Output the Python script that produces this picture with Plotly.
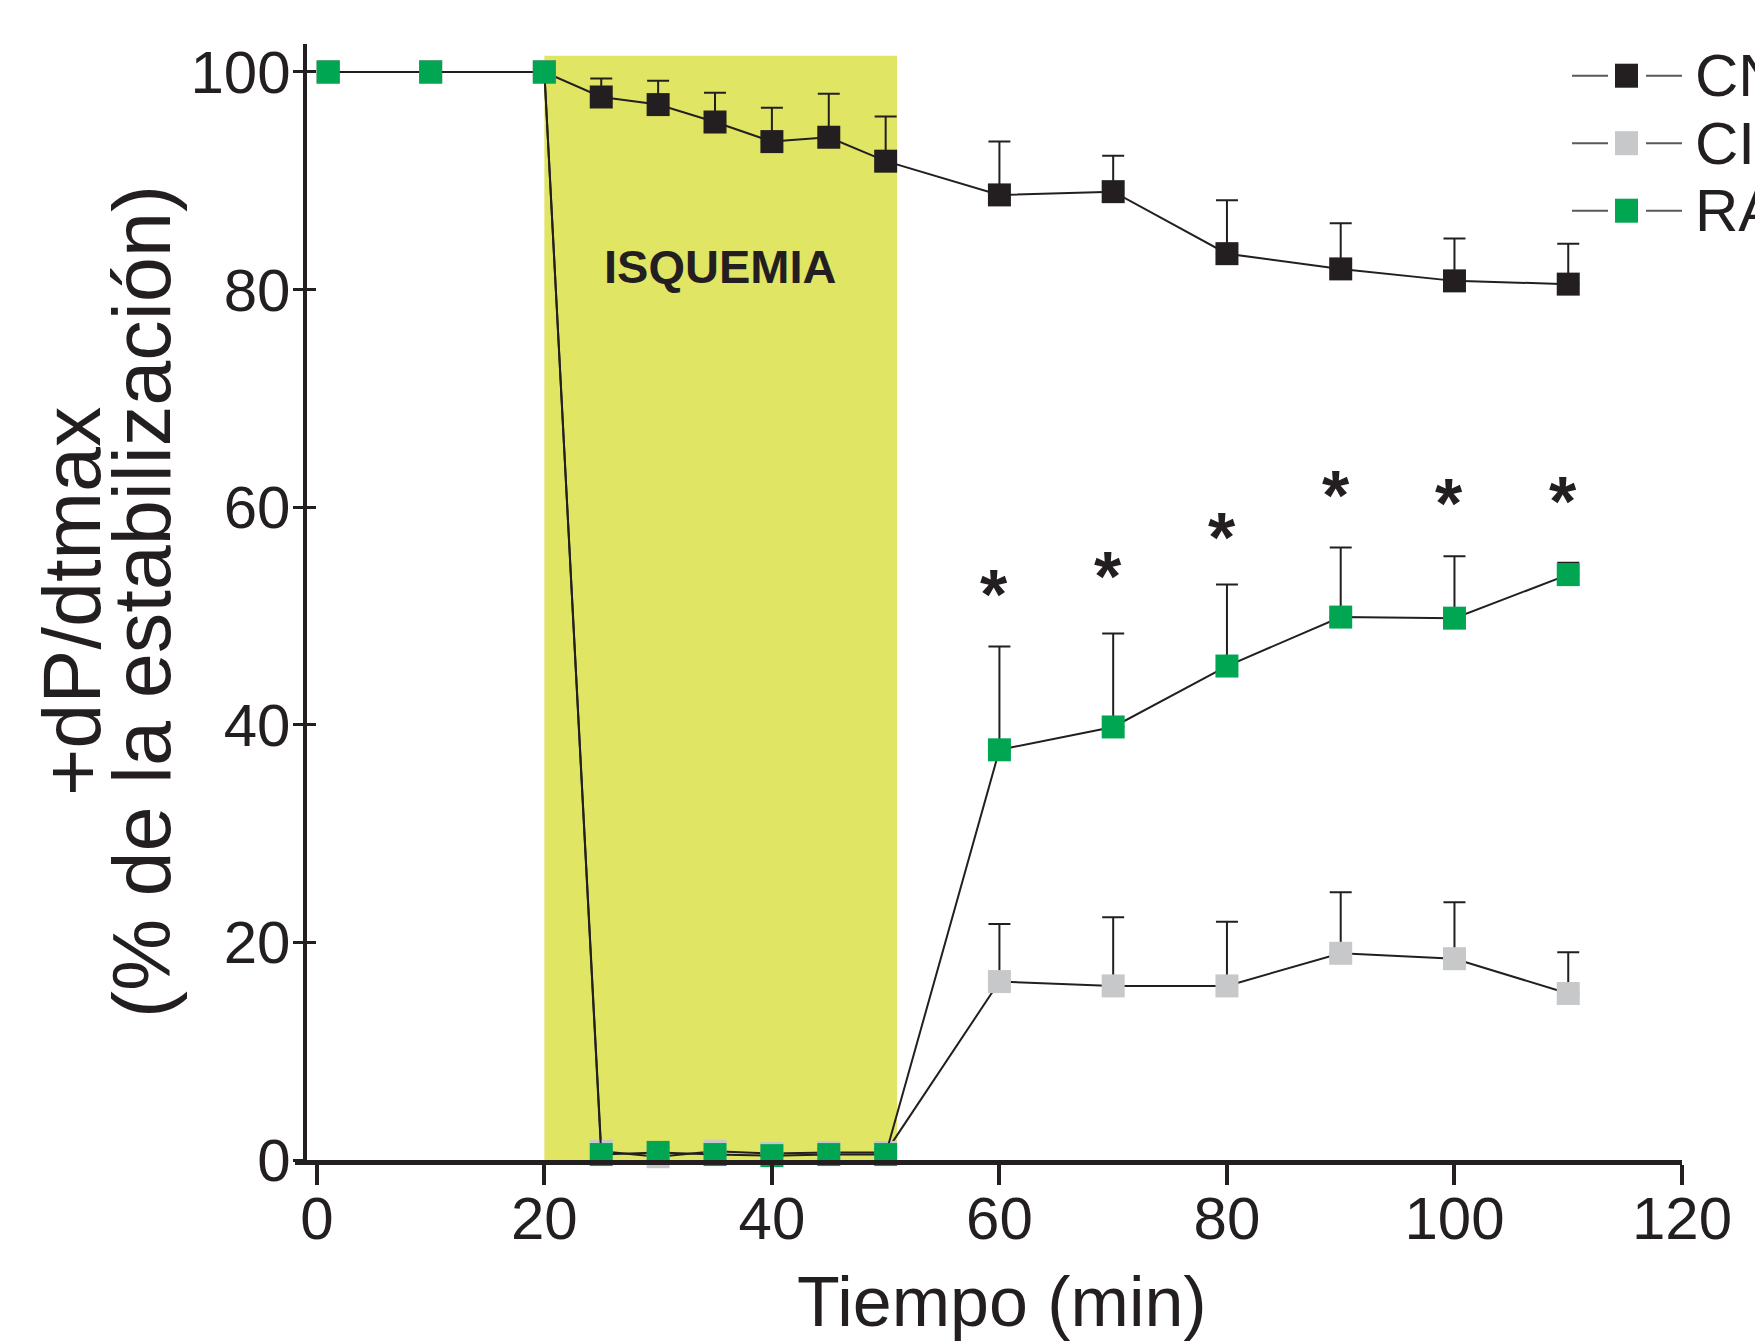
import plotly.graph_objects as go

# ---------------- data ----------------
time_min = [1, 10, 20, 25, 30, 35, 40, 45, 50, 60, 70, 80, 90, 100, 110]
cn_values = [100, 100, 100, 97.7, 97.0, 95.4, 93.6, 94.0, 91.8, 88.7, 89.0, 83.3, 81.9, 80.8, 80.5]
cn_sem = [0, 0, 0, 1.7, 2.2, 2.7, 3.1, 4.0, 4.1, 4.9, 3.3, 4.9, 4.2, 3.9, 3.7]
ci_values = [100, 100, 100, 0.8, 0.3, 0.8, 0.6, 0.7, 0.7, 16.4, 16.0, 16.0, 19.0, 18.5, 15.3]
ci_sem = [0, 0, 0, 0.3, 0.3, 0.3, 0.3, 0.3, 0.3, 5.3, 6.3, 5.9, 5.6, 5.2, 3.8]
ra_values = [100, 100, 100, 0.5, 0.7, 0.5, 0.4, 0.5, 0.5, 37.7, 39.8, 45.4, 49.9, 49.8, 53.8]
ra_sem = [0, 0, 0, 0.4, 0.4, 0.5, 0.4, 0.5, 0.5, 9.5, 8.6, 7.5, 6.4, 5.7, 1.1]
series_names = ["CN", "CI", "RA"]
star_times = [60, 70, 80, 90, 100, 110]
star_levels = [53.0, 54.7, 58.3, 62.1, 61.4, 61.6]
x_ticks = [0, 20, 40, 60, 80, 100, 120]
y_ticks = [0, 20, 40, 60, 80, 100]
ischemia_start, ischemia_end, ischemia_top = 20, 51, 101.5
ischemia_label = "ISQUEMIA"
x_title = "Tiempo (min)"
y_title_lines = ["+dP/dtmax", "(% de la estabilización)"]

# ---------------- style ----------------
W, H = 1755, 1341
L, R, T, B = 295, 73, 44, 181
PW, PH = W - L - R, H - T - B
INK = "#231f20"
colors = ["#231f20", "#c7c8ca", "#00a651"]
FONT = "Liberation Sans, Arial, Helvetica, sans-serif"
X_RANGE = [-1.92, 120]
Y_RANGE = [0, 102.57]
YAXIS_POS = 0.00685


def px_x(px):
    return (px - L) / PW


def px_y(py):
    return 1 - (py - T) / PH


fig = go.Figure()

series = [(cn_values, cn_sem), (ci_values, ci_sem), (ra_values, ra_sem)]
for name, (vals, sem), col in zip(series_names, series, colors):
    fig.add_trace(go.Scatter(
        x=time_min, y=vals, name=name, mode="lines+markers",
        line=dict(color=INK, width=2),
        marker=dict(symbol="square", size=23, color=col, line=dict(width=0)),
        error_y=dict(type="data", array=sem, arrayminus=[0] * len(sem),
                     symmetric=False, color=INK, thickness=2, width=11),
        showlegend=False, cliponaxis=False,
    ))

# ischemia band
fig.add_shape(type="rect", xref="x", yref="y", x0=ischemia_start, x1=ischemia_end,
              y0=0, y1=ischemia_top, fillcolor="#e1e564", line=dict(width=0), layer="below")

annotations = []
annotations.append(dict(x=(ischemia_start + 15.4), y=82.1, xref="x", yref="y", text=ischemia_label,
                        showarrow=False, font=dict(family=FONT, size=47, color=INK, weight="bold")))
for t, lv in zip(star_times, star_levels):
    annotations.append(dict(x=t, y=lv, xref="x", yref="y", text="*", showarrow=False,
                            xshift=-5, yshift=-12,
                            font=dict(family=FONT, size=70, color=INK, weight="bold")))

# axis titles
annotations.append(dict(x=px_x(1002), y=px_y(1302), xref="paper", yref="paper", text=x_title,
                        showarrow=False, xanchor="center", yanchor="middle",
                        font=dict(family=FONT, size=70, color=INK)))
for txt, cx in zip(y_title_lines, [72, 142]):
    annotations.append(dict(x=px_x(cx), y=0.5, xref="paper", yref="paper", text=txt,
                            showarrow=False, textangle=-90, xanchor="center", yanchor="middle",
                            font=dict(family=FONT, size=81, color=INK)))

# manual legend (cut by right edge like the reference)
shapes = []
for i, (name, col) in enumerate(zip(series_names, colors)):
    ry = 75.7 + 67.5 * i
    for xa, xb in [(1572, 1608), (1646, 1682)]:
        shapes.append(dict(type="line", xref="paper", yref="paper",
                           x0=px_x(xa), x1=px_x(xb), y0=px_y(ry), y1=px_y(ry),
                           line=dict(color="#58595b", width=2)))
    shapes.append(dict(type="rect", xref="paper", yref="paper",
                       x0=px_x(1615), x1=px_x(1638), y0=px_y(ry - 12), y1=px_y(ry + 12),
                       fillcolor=col, line=dict(width=0)))
    annotations.append(dict(x=px_x(1693), y=px_y(ry), xref="paper", yref="paper", text=name,
                            showarrow=False, xanchor="left", yanchor="middle",
                            font=dict(family=FONT, size=60, color=INK)))
for s in shapes:
    fig.add_shape(**s)

fig.update_layout(
    width=W, height=H,
    margin=dict(l=L, r=R, t=T, b=B, autoexpand=False),
    paper_bgcolor="white", plot_bgcolor="white",
    font=dict(family=FONT, color=INK),
    annotations=annotations,
    xaxis=dict(range=X_RANGE, tickvals=x_ticks, ticks="outside", ticklen=20, tickwidth=4,
               tickcolor=INK, showline=True, linewidth=5, linecolor=INK,
               ticklabelstandoff=-18,
               showgrid=False, zeroline=False, tickfont=dict(size=60, color=INK)),
    yaxis=dict(range=Y_RANGE, tickvals=y_ticks, ticks="outside", ticklen=10, tickwidth=3,
               tickcolor=INK, showline=True, linewidth=4, linecolor=INK,
               anchor="free", position=YAXIS_POS, ticklabelstandoff=-10,
               showgrid=False, zeroline=False, tickfont=dict(size=60, color=INK)),
    yaxis2=dict(range=Y_RANGE, tickvals=y_ticks, ticks="inside", ticklen=10, tickwidth=3,
                tickcolor=INK, overlaying="y", anchor="free", position=YAXIS_POS,
                showticklabels=False, showline=False, showgrid=False, zeroline=False),
)
# invisible trace that activates the overlaid axis carrying the inner half of the y ticks
fig.add_trace(go.Scatter(x=[None], y=[None], yaxis="y2", showlegend=False, hoverinfo="skip"))

fig.write_html("out.html")
